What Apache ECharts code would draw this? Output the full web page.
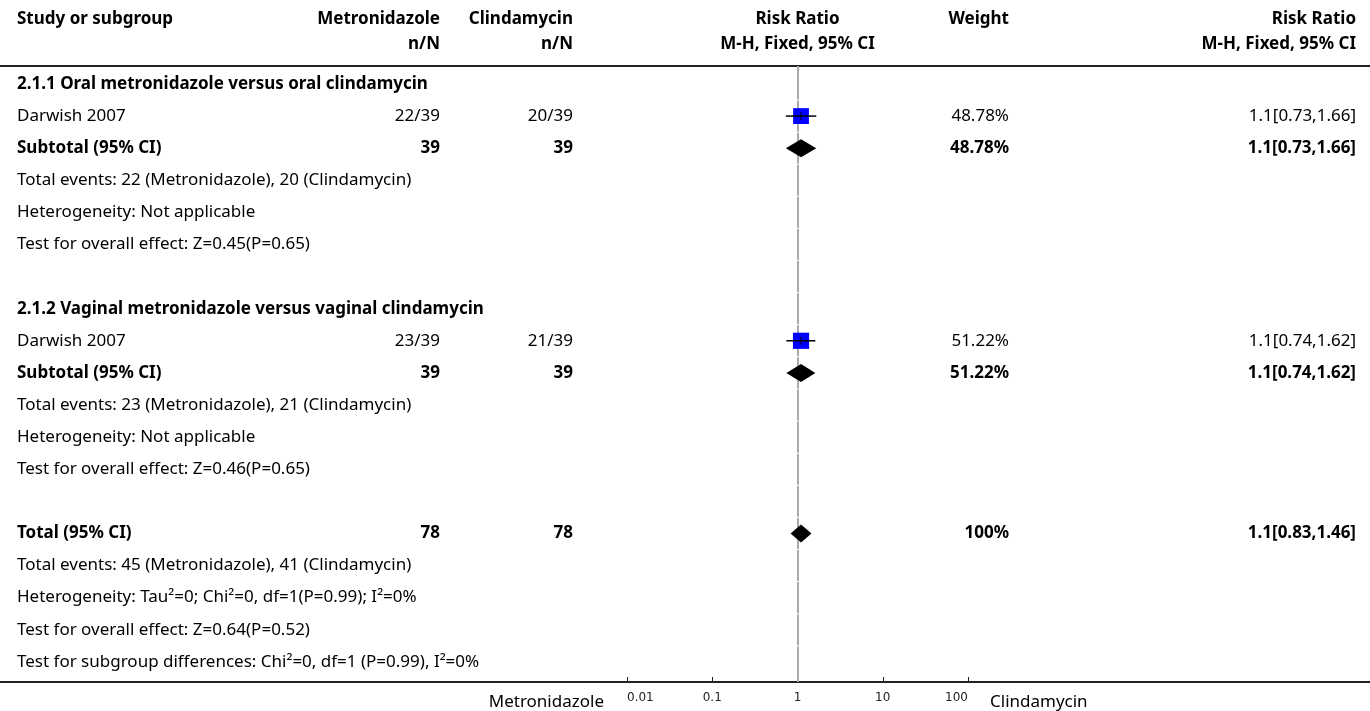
<!DOCTYPE html>
<html>
<head>
<meta charset="utf-8">
<style>
  html, body { margin: 0; padding: 0; background: #fff; }
  #chart { width: 1370px; height: 711px; }
</style>
<script src="https://cdn.jsdelivr.net/npm/echarts@6/dist/echarts.min.js"></script>
</head>
<body>
<div id="chart"></div>
<script>
// ---- table content, one entry per row (top to bottom) ----
const rowLabels = [
  '2.1.1 Oral metronidazole versus oral clindamycin',
  'Darwish 2007',
  'Subtotal (95% CI)',
  'Total events: 22 (Metronidazole), 20 (Clindamycin)',
  'Heterogeneity: Not applicable',
  'Test for overall effect: Z=0.45(P=0.65)',
  '',
  '2.1.2 Vaginal metronidazole versus vaginal clindamycin',
  'Darwish 2007',
  'Subtotal (95% CI)',
  'Total events: 23 (Metronidazole), 21 (Clindamycin)',
  'Heterogeneity: Not applicable',
  'Test for overall effect: Z=0.46(P=0.65)',
  '',
  'Total (95% CI)',
  'Total events: 45 (Metronidazole), 41 (Clindamycin)',
  'Heterogeneity: Tau\u00b2=0; Chi\u00b2=0, df=1(P=0.99); I\u00b2=0%',
  'Test for overall effect: Z=0.64(P=0.52)',
  'Test for subgroup differences: Chi\u00b2=0, df=1 (P=0.99), I\u00b2=0%'
];
const boldRows = [0, 2, 7, 9, 14];
const metroCells  = ['', '22/39', '39', '', '', '', '', '', '23/39', '39', '', '', '', '', '78', '', '', '', ''];
const clindaCells = ['', '20/39', '39', '', '', '', '', '', '21/39', '39', '', '', '', '', '78', '', '', '', ''];
const weightCells = ['', '48.78%', '48.78%', '', '', '', '', '', '51.22%', '51.22%', '', '', '', '', '100%', '', '', '', ''];
const rrCells = ['', '1.1[0.73,1.66]', '1.1[0.73,1.66]', '', '', '', '', '', '1.1[0.74,1.62]', '1.1[0.74,1.62]', '', '', '', '', '1.1[0.83,1.46]', '', '', '', ''];

// ---- column headers ----
const headerTop = ['Study or subgroup', 'Metronidazole', 'Clindamycin', 'Risk Ratio', 'Weight', 'Risk Ratio'];
const headerSub = ['', 'n/N', 'n/N', 'M-H, Fixed, 95% CI', '', 'M-H, Fixed, 95% CI'];

// ---- individual studies ----
const studyRows   = [1, 8];
const studyRR     = [1.1, 1.1];
const studyLo     = [0.73, 0.74];
const studyHi     = [1.66, 1.62];
const studyWeight = [48.78, 51.22];

// ---- pooled estimates (subtotals and total) ----
const pooledRows = [2, 9, 14];
const pooledRR   = [1.1, 1.1, 1.1];
const pooledLo   = [0.73, 0.74, 0.83];
const pooledHi   = [1.66, 1.62, 1.46];

// ---- axis ----
const axisTickValues = [0.01, 0.1, 1, 10, 100];
const favoursLeft  = 'Metronidazole';
const favoursRight = 'Clindamycin';

// ---- layout / style ----
const W = 1370, H = 711;
const FONT = '"Noto Sans"';
const FS = 17;
const TEXT_COLOR = '#000';
const COL_STUDY_X = 17;
const COL_METRO_R = 440;
const COL_CLINDA_R = 573;
const COL_WEIGHT_R = 1009;
const COL_RR_R = 1356;
const PLOT_LEFT = 627, PLOT_RIGHT = 968;
const TOP_LINE_Y = 66, BOTTOM_LINE_Y = 682;
const ROW_MIN = -0.56, ROW_MAX = 18.63;

const chart = echarts.init(document.getElementById('chart'), null, { renderer: 'canvas' });

const rowIndex = rowLabels.map((_, i) => i);

function txt(x, y, text, align, bold) {
  return {
    type: 'text',
    x: x, y: y,
    style: {
      text: text,
      fill: TEXT_COLOR,
      font: (bold ? 'bold ' : '') + FS + 'px ' + FONT,
      textAlign: align,
      textVerticalAlign: 'middle'
    }
  };
}

// header drawn at fixed rows above the table rule
const headerXs = [COL_STUDY_X, COL_METRO_R, COL_CLINDA_R, null, COL_WEIGHT_R, COL_RR_R];
const headerAligns = ['left', 'right', 'right', 'center', 'right', 'right'];

const option = {
  animation: false,
  backgroundColor: '#fff',
  grid: {
    left: PLOT_LEFT,
    right: W - PLOT_RIGHT,
    top: TOP_LINE_Y,
    bottom: H - BOTTOM_LINE_Y,
    containLabel: false
  },
  xAxis: {
    type: 'log',
    logBase: 10,
    position: 'bottom',
    min: axisTickValues[0],
    max: axisTickValues[axisTickValues.length - 1],
    axisLine: { show: true, onZero: false, lineStyle: { color: '#222', width: 1.5 } },
    axisTick: { show: true, inside: true, length: 5, lineStyle: { color: '#222', width: 1 } },
    minorTick: { show: false },
    splitLine: { show: false },
    axisLabel: {
      show: true,
      margin: 10,
      fontFamily: 'DejaVu Sans',
      fontSize: 12,
      color: '#222',
      alignMinLabel: 'left',
      alignMaxLabel: 'right',
      formatter: function (v) { return String(parseFloat(Number(v).toPrecision(2))); }
    }
  },
  yAxis: {
    type: 'value',
    inverse: true,
    min: ROW_MIN,
    max: ROW_MAX,
    show: false
  },
  graphic: {
    elements: [
      // table rules
      { type: 'line', shape: { x1: 0, y1: TOP_LINE_Y, x2: W, y2: TOP_LINE_Y }, style: { stroke: '#222', lineWidth: 2 }, silent: true },
      { type: 'line', shape: { x1: 0, y1: BOTTOM_LINE_Y, x2: W, y2: BOTTOM_LINE_Y }, style: { stroke: '#222', lineWidth: 2 }, silent: true },
      // favours labels under the axis
      Object.assign(txt(604, 702, favoursLeft, 'right', false), { silent: true }),
      Object.assign(txt(990, 702, favoursRight, 'left', false), { silent: true })
    ]
  },
  series: [
    // vertical line of no effect, broken at each row boundary
    {
      type: 'custom',
      coordinateSystem: 'cartesian2d',
      silent: true,
      z: 1,
      data: rowIndex.map(i => [1, i]),
      renderItem: function (params, api) {
        const row = api.value(1);
        const x = Math.round(api.coord([1, row])[0]);
        const yTop = row === 0 ? api.coord([1, ROW_MIN])[1] : api.coord([1, row - 0.5])[1] + 0.5;
        const yBot = row === rowLabels.length - 1 ? api.coord([1, ROW_MAX])[1] : api.coord([1, row + 0.5])[1] - 0.5;
        return {
          type: 'line',
          shape: { x1: x, y1: yTop, x2: x, y2: yBot },
          style: { stroke: '#aaa', lineWidth: 2 }
        };
      },
      clip: false
    },
    // table text
    {
      type: 'custom',
      coordinateSystem: 'cartesian2d',
      silent: true,
      z: 5,
      clip: false,
      data: rowIndex.map(i => [1, i]),
      renderItem: function (params, api) {
        const row = api.value(1);
        const y = api.coord([1, row])[1];
        const bold = boldRows.indexOf(row) >= 0;
        const kids = [];
        if (rowLabels[row]) kids.push(txt(COL_STUDY_X, y, rowLabels[row], 'left', bold));
        if (metroCells[row]) kids.push(txt(COL_METRO_R, y, metroCells[row], 'right', bold));
        if (clindaCells[row]) kids.push(txt(COL_CLINDA_R, y, clindaCells[row], 'right', bold));
        if (weightCells[row]) kids.push(txt(COL_WEIGHT_R, y, weightCells[row], 'right', bold));
        if (rrCells[row]) kids.push(txt(COL_RR_R, y, rrCells[row], 'right', bold));
        return { type: 'group', children: kids };
      }
    },
    // column headers
    {
      type: 'custom',
      coordinateSystem: 'cartesian2d',
      silent: true,
      z: 5,
      clip: false,
      data: [[1, 0]],
      renderItem: function (params, api) {
        const xCenter = api.coord([1, 0])[0];
        const kids = [];
        headerTop.forEach((t, k) => {
          const x = headerXs[k] === null ? xCenter : headerXs[k];
          if (t) kids.push(txt(x, 19, t, headerAligns[k], true));
          if (headerSub[k]) kids.push(txt(x, 44, headerSub[k], headerAligns[k], true));
        });
        return { type: 'group', children: kids };
      }
    },
    // individual study estimates: weighted square with CI line
    {
      type: 'custom',
      coordinateSystem: 'cartesian2d',
      silent: true,
      z: 10,
      data: studyRows.map((r, i) => [studyRR[i], r, studyLo[i], studyHi[i], studyWeight[i]]),
      renderItem: function (params, api) {
        const c = api.coord([api.value(0), api.value(1)]);
        const lo = api.coord([api.value(2), api.value(1)]);
        const hi = api.coord([api.value(3), api.value(1)]);
        const side = 16 * Math.sqrt(api.value(4) / 50);
        return {
          type: 'group',
          children: [
            { type: 'rect', shape: { x: c[0] - side / 2, y: c[1] - side / 2, width: side, height: side }, style: { fill: '#0000ff' } },
            { type: 'line', shape: { x1: lo[0], y1: c[1], x2: hi[0], y2: c[1] }, style: { stroke: '#000', lineWidth: 1.5 } },
            { type: 'line', shape: { x1: c[0], y1: c[1] - 4, x2: c[0], y2: c[1] + 4 }, style: { stroke: '#000', lineWidth: 1 } }
          ]
        };
      },
      clip: false
    },
    // pooled estimates: diamonds
    {
      type: 'custom',
      coordinateSystem: 'cartesian2d',
      silent: true,
      z: 10,
      data: pooledRows.map((r, i) => [pooledRR[i], r, pooledLo[i], pooledHi[i]]),
      renderItem: function (params, api) {
        const c = api.coord([api.value(0), api.value(1)]);
        const lo = api.coord([api.value(2), api.value(1)]);
        const hi = api.coord([api.value(3), api.value(1)]);
        return {
          type: 'polygon',
          shape: { points: [[lo[0], c[1]], [c[0], c[1] - 9], [hi[0], c[1]], [c[0], c[1] + 9]] },
          style: { fill: '#000' }
        };
      },
      clip: false
    }
  ]
};

chart.setOption(option);
</script>
</body>
</html>
